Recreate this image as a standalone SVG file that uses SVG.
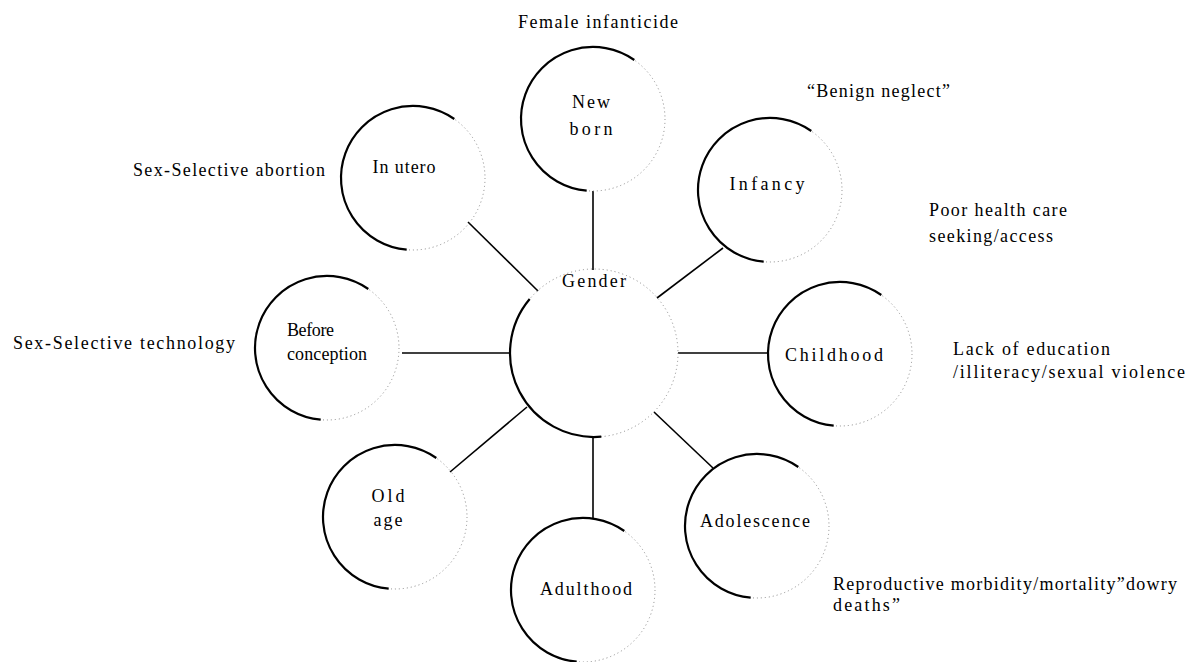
<svg xmlns="http://www.w3.org/2000/svg" xmlns:xlink="http://www.w3.org/1999/xlink" width="1202" height="662" viewBox="0 0 1202 662">
<style>
  text { font-family: "Liberation Serif", "Times New Roman", serif; font-size: 18px; fill: #000; }
  .mid { text-anchor: middle; }
  .solid { fill: none; stroke: #000; stroke-width: 2.2; }
  .faint { fill: none; stroke: #888; stroke-width: 1; stroke-dasharray: 1 3; }
  .conn line { stroke: #000; stroke-width: 1.6; }
</style>
<defs>
  <g id="ring">
    <circle class="faint" cx="0" cy="0" r="72"/>
    <path class="solid" d="M41.3,-59 A72,72 0 1 0 -6.3,71.7"/>
  </g>
  <g id="ringL">
    <circle class="faint" cx="0" cy="0" r="84"/>
    <path class="solid" d="M-64.3,-54 A84,84 0 0 0 7.3,83.7"/>
  </g>
</defs>
<rect width="1202" height="662" fill="#fff"/>

<g id="connectors" class="conn">
  <line x1="593" y1="191" x2="593" y2="270"/>
  <line x1="468" y1="222" x2="538" y2="291"/>
  <line x1="723" y1="248" x2="657" y2="298"/>
  <line x1="678" y1="353" x2="767" y2="353"/>
  <line x1="402" y1="353" x2="510" y2="353"/>
  <line x1="450" y1="472" x2="527" y2="407"/>
  <line x1="593" y1="437" x2="593" y2="519"/>
  <line x1="654" y1="412" x2="713" y2="468"/>
</g>

<g id="gender">
  <use xlink:href="#ringL" transform="translate(594,353)"/>
  <text x="594" y="287" class="mid" textLength="64">Gender</text>
</g>
<g id="newborn">
  <use xlink:href="#ring" transform="translate(593,119)"/>
  <text x="591" y="108" class="mid" textLength="38">New</text>
  <text x="591" y="135" class="mid" textLength="43">born</text>
</g>
<g id="inutero">
  <use xlink:href="#ring" transform="translate(413,178)"/>
  <text x="404" y="173" class="mid" textLength="63">In utero</text>
</g>
<g id="infancy">
  <use xlink:href="#ring" transform="translate(770,190)"/>
  <text x="767" y="190" class="mid" textLength="75">Infancy</text>
</g>
<g id="childhood">
  <use xlink:href="#ring" transform="translate(840,354)"/>
  <text x="834" y="361" class="mid" textLength="98">Childhood</text>
</g>
<g id="beforeconception">
  <use xlink:href="#ring" transform="translate(327,348)"/>
  <text x="287" y="336" textLength="47">Before</text>
  <text x="287" y="360" textLength="80">conception</text>
</g>
<g id="oldage">
  <use xlink:href="#ring" transform="translate(395,517)"/>
  <text x="388" y="502" class="mid" textLength="33">Old</text>
  <text x="388" y="526" class="mid" textLength="29">age</text>
</g>
<g id="adulthood">
  <use xlink:href="#ring" transform="translate(583,590)"/>
  <text x="586" y="595" class="mid" textLength="92">Adulthood</text>
</g>
<g id="adolescence">
  <use xlink:href="#ring" transform="translate(757,526)"/>
  <text x="755" y="527" class="mid" textLength="110">Adolescence</text>
</g>

<g id="annotations">
  <text x="518" y="28" textLength="160">Female infanticide</text>
  <text x="807" y="97" textLength="143">“Benign neglect”</text>
  <text x="133" y="176" textLength="192">Sex-Selective abortion</text>
  <text x="929" y="216" textLength="138">Poor health care</text>
  <text x="929" y="242" textLength="124">seeking/access</text>
  <text x="13" y="349" textLength="222">Sex-Selective technology</text>
  <text x="953" y="355" textLength="157">Lack of education</text>
  <text x="953" y="378" textLength="232">/illiteracy/sexual violence</text>
  <text x="833" y="590" textLength="344">Reproductive morbidity/mortality”dowry</text>
  <text x="833" y="611" textLength="67">deaths”</text>
</g>
</svg>
